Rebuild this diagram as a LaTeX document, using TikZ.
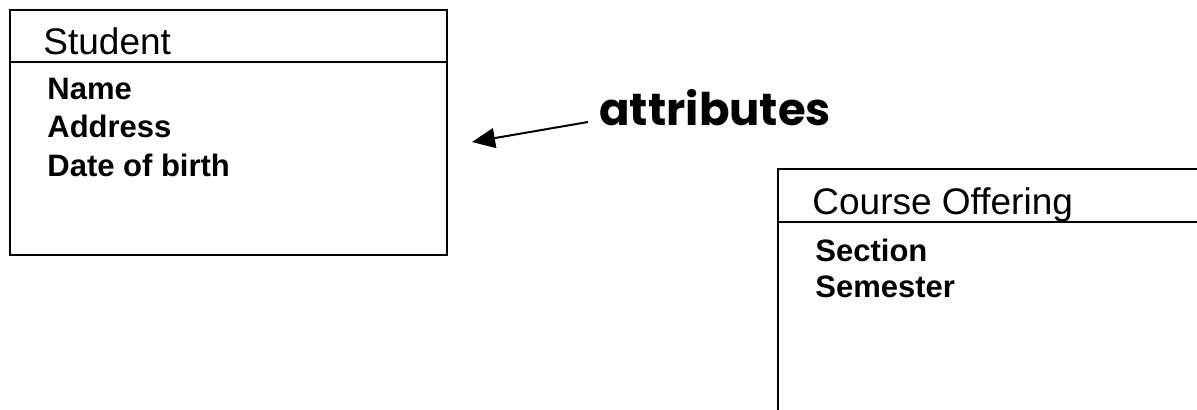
\documentclass[tikz,border=0pt]{standalone}
\usepackage{fontspec}
\setmainfont{Liberation Sans}
\newfontfamily\comicfont{Poppins}
\usetikzlibrary{arrows.meta}
\begin{document}
\begin{tikzpicture}[x=0.5pt,y=-0.5pt,
  boxline/.style={line width=1pt},
  titletext/.style={anchor=base west,inner sep=0pt,font=\fontsize{18.5pt}{22pt}\selectfont},
  attrtext/.style={anchor=base west,inner sep=0pt,font=\fontsize{15.5pt}{19pt}\selectfont\bfseries},
  notetext/.style={anchor=base west,inner sep=0pt,font=\fontsize{22.5pt}{27pt}\selectfont\comicfont\bfseries},
  pointer/.style={line width=1pt,-{Triangle[length=11.5pt,width=10pt]}}]
\useasboundingbox (0,0) rectangle (1197,410);
\clip (0,0) rectangle (1197,410);
% Student class
\draw[boxline] (10,10) rectangle (447,255);
\draw[boxline] (10,62) -- (447,62);
\node[titletext] (stitle) at (43,55) {Student};
\node[attrtext] (sname) at (47,100) {Name};
\node[attrtext] (saddr) at (47,138) {Address};
\node[attrtext] (sdob) at (47,177) {Date of birth};
% Course Offering class
\draw[boxline] (778,169) rectangle (1215,430);
\draw[boxline] (778,222) -- (1215,222);
\node[titletext] (ctitle) at (812,215) {Course Offering};
\node[attrtext] (csec) at (815,262) {Section};
\node[attrtext] (csem) at (815,298) {Semester};
% note
\node[notetext] (attr) at (599,126) {attributes};
\coordinate (tail) at (588,122);
\coordinate (tip) at (472,142);
\draw[pointer] (tail) -- (tip);
\end{tikzpicture}
\end{document}
